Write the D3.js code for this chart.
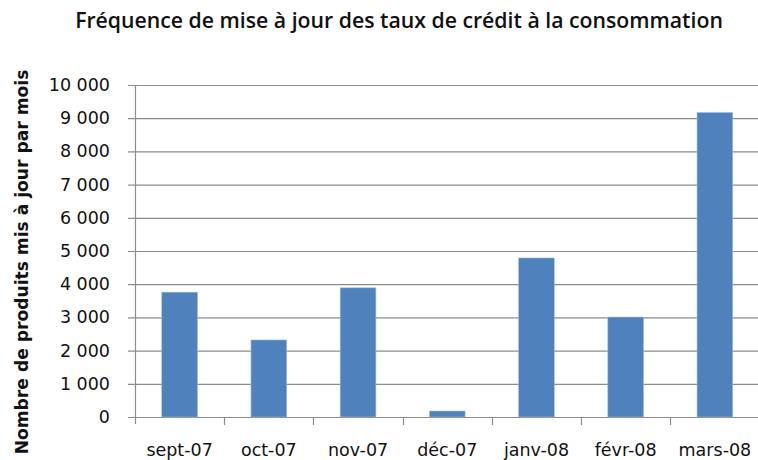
<!DOCTYPE html>
<html><head><meta charset="utf-8">
<script src="https://cdn.jsdelivr.net/npm/d3@7"></script>
<style>body{margin:0;background:#fff}svg{display:block}</style>
</head><body>
<script>
const categories = ["sept-07","oct-07","nov-07","déc-07","janv-08","févr-08","mars-08"];
const values = [3760, 2320, 3890, 180, 4790, 3010, 9170];
const yTicks = [0,1000,2000,3000,4000,5000,6000,7000,8000,9000,10000];
const title = "Fréquence de mise à jour des taux de crédit à la consommation";
const yTitle = "Nombre de produits mis à jour par mois";

const W = 758, H = 460;
const svg = d3.select("body").append("svg").attr("width", W).attr("height", H);
const x = d3.scaleBand().domain(categories).range([135, 759.5]).paddingInner(0.6).paddingOuter(0.3);
const y = d3.scaleLinear().domain([0, 10000]).range([417, 85]);
const fmt = v => d3.format(",")(v).replace(/,/g, " ");
const font = "'DejaVu Sans', Verdana, sans-serif";

// gridlines
svg.append("g").selectAll("line").data(yTicks).join("line")
  .attr("x1", 128).attr("x2", W).attr("y1", d => y(d) + 0.5).attr("y2", d => y(d) + 0.5)
  .attr("stroke", "#8c8c8c").attr("stroke-width", 1.2);

// y axis line
svg.append("line").attr("x1", 135.5).attr("x2", 135.5).attr("y1", y(10000)).attr("y2", 424)
  .attr("stroke", "#8c8c8c").attr("stroke-width", 1.2);

// category ticks
const bounds = categories.map(c => x(c) - x.step() * x.paddingInner() / 2);
svg.append("g").selectAll("line").data(bounds.slice(1)).join("line")
  .attr("x1", d => Math.round(d) + 0.5).attr("x2", d => Math.round(d) + 0.5)
  .attr("y1", 417).attr("y2", 425).attr("stroke", "#8c8c8c").attr("stroke-width", 1.2);

// bars
svg.append("g").selectAll("rect").data(values).join("rect")
  .attr("x", (d, i) => x(categories[i])).attr("width", x.bandwidth())
  .attr("y", d => y(d)).attr("height", d => y(0) - y(d))
  .attr("fill", "#4f81bd").attr("stroke", "#9db9dc").attr("stroke-width", 0.6);

// y tick labels
svg.append("g").selectAll("text").data(yTicks).join("text")
  .attr("x", 110).attr("y", d => y(d) + 6).attr("text-anchor", "end")
  .attr("font-family", font).attr("font-size", 17.5).attr("fill", "#111")
  .text(fmt);

// x labels
svg.append("g").selectAll("text").data(categories).join("text")
  .attr("x", c => x(c) + x.bandwidth() / 2).attr("y", 456).attr("text-anchor", "middle")
  .attr("font-family", font).attr("font-size", 17.5).attr("fill", "#111")
  .text(d => d);

function fit(sel, target) {
  const w = sel.node().getComputedTextLength();
  const fs = parseFloat(sel.attr("font-size"));
  sel.attr("font-size", fs * target / w);
}
// title
const t = svg.append("text").attr("x", 399).attr("y", 28).attr("text-anchor", "middle")
  .attr("font-family", "'Liberation Sans Narrow', 'Open Sans', sans-serif").attr("font-weight", 600)
  .attr("font-size", 18).attr("fill", "#111").text(title);
fit(t, 648);

// y title
const yt = svg.append("text").attr("transform", "translate(28,262) rotate(-90)")
  .attr("text-anchor", "middle").attr("font-family", font).attr("font-weight", "bold")
  .attr("font-size", 16).attr("fill", "#111").text(yTitle);
fit(yt, 385);
</script>
</body></html>
